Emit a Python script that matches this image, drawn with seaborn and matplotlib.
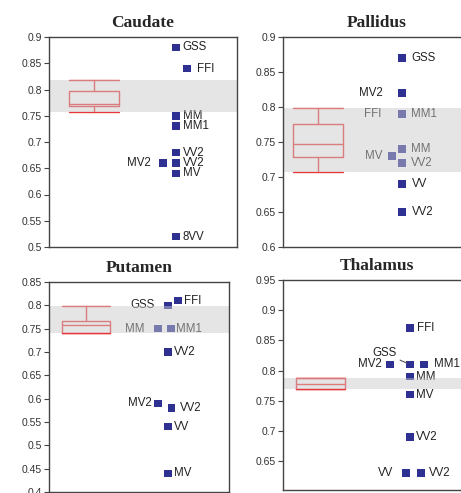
import matplotlib
matplotlib.use('Agg')
import matplotlib.pyplot as plt
from matplotlib.ticker import FormatStrFormatter, MultipleLocator
import seaborn as sns
import numpy as np
import pandas as pd

# ===============================================
# Values
# ===============================================
regions = ['Caudate', 'Pallidus', 'Putamen', 'Thalamus']

caudate_labels = ['GSS', 'FFI', 'MM', 'MM1', 'VV2', 'VV2', 'MV2', 'MV', '8VV']
caudate_values = [0.88, 0.84, 0.75, 0.73, 0.68, 0.66, 0.66, 0.64, 0.52]

pallidus_labels = ['GSS', 'MV2', 'FFI', 'MM1', 'MM', 'MV', 'VV2', 'VV', 'VV2']
pallidus_values = [0.87, 0.82, 0.79, 0.79, 0.74, 0.73, 0.72, 0.69, 0.65]

putamen_labels = ['FFI', 'GSS', 'MM', 'MM1', 'VV2', 'MV2', 'VV2', 'VV', 'MV']
putamen_values = [0.81, 0.80, 0.75, 0.75, 0.70, 0.59, 0.58, 0.54, 0.44]

thalamus_labels = ['FFI', 'GSS', 'MV2', 'MM1', 'MM', 'MV', 'VV2', 'VV', 'VV2']
thalamus_values = [0.87, 0.81, 0.81, 0.81, 0.79, 0.76, 0.69, 0.63, 0.63]

# control group box: whisker low, q1, median, q3, whisker high
caudate_box = [0.757, 0.768, 0.772, 0.797, 0.818]
pallidus_box = [0.707, 0.728, 0.747, 0.776, 0.799]
putamen_box = [0.740, 0.741, 0.757, 0.766, 0.798]
thalamus_box = [0.769, 0.770, 0.777, 0.787, 0.788]

y_limits = [(0.5, 0.9), (0.6, 0.9), (0.4, 0.85), (0.602, 0.95)]

# ===============================================
# Layout (manual dodging of the points and their labels)
# ===============================================
caudate_x = [0.675, 0.734, 0.675, 0.675, 0.675, 0.675, 0.606, 0.675, 0.675]
caudate_dx = [5, 7, 5, 5, 5, 5, -9, 5, 5]

pallidus_x = [0.636, 0.636, 0.636, 0.636, 0.636, 0.583, 0.636, 0.636, 0.636]
pallidus_dx = [6.5, -13.5, -14.5, 6.5, 6.5, -7, 6.5, 7, 7]

putamen_x = [0.717, 0.66, 0.606, 0.678, 0.66, 0.606, 0.68, 0.66, 0.66]
putamen_dx = [4.5, -9.5, -9.5, 3.5, 4.5, -4.5, 6, 4.5, 4.5]

thalamus_x = [0.679, 0.679, 0.572, 0.754, 0.679, 0.679, 0.679, 0.658, 0.738]
thalamus_dx = [5, None, -6, 7, 4, 4, 4.5, -9.5, 6]

box_center = [0.24, 0.187, 0.206, 0.20]
box_width = 0.266

axes_rects = [
    [49 / 461, 1 - 247 / 493, 188 / 461, 210 / 493],
    [283 / 461, 1 - 247 / 493, 187 / 461, 210 / 493],
    [49 / 461, 1 - 492 / 493, 180 / 461, 210 / 493],
    [283 / 461, 1 - 490 / 493, 187 / 461, 210 / 493],
]

point_color = '#2f3192'
box_color = '#e8383d'
frame_color = '#444444'

sns.set_style('white')
plt.rcParams['font.family'] = ['Liberation Sans', 'DejaVu Sans']

panels = [
    (caudate_labels, caudate_values, caudate_box, caudate_x, caudate_dx),
    (pallidus_labels, pallidus_values, pallidus_box, pallidus_x, pallidus_dx),
    (putamen_labels, putamen_values, putamen_box, putamen_x, putamen_dx),
    (thalamus_labels, thalamus_values, thalamus_box, thalamus_x, thalamus_dx),
]

fig = plt.figure(figsize=(4.61, 4.93), dpi=100)

for i, (labels, values, box, xs, dxs) in enumerate(panels):
    ax = fig.add_axes(axes_rects[i])
    df = pd.DataFrame({'x': xs, 'value': values, 'label': labels})

    # control group box plot
    stats = dict(whislo=box[0], q1=box[1], med=box[2], q3=box[3],
                 whishi=box[4], fliers=[])
    lp = dict(color=box_color, lw=1)
    ax.bxp([stats], positions=[box_center[i]], widths=box_width,
           capwidths=box_width, showfliers=False, manage_ticks=False,
           boxprops=lp, whiskerprops=lp, capprops=lp, medianprops=lp,
           zorder=2)

    # patients
    sns.scatterplot(data=df, x='x', y='value', ax=ax, marker='s', s=30,
                    color=point_color, edgecolor='none', linewidth=0,
                    legend=False, zorder=3)

    for xv, yv, lab, dx in zip(xs, values, labels, dxs):
        if dx is None:
            # label with a leader line
            ax.annotate(lab, xy=(xv, yv), xytext=(-9.5, 8.5),
                        textcoords='offset points', ha='right', va='center',
                        fontsize=8.3, color='#222222', zorder=3,
                        arrowprops=dict(arrowstyle='-', color='#555555',
                                        lw=0.8, shrinkA=0, shrinkB=2.5,
                                        relpos=(1, 0)))
            continue
        ax.annotate(lab, xy=(xv, yv), xytext=(dx, 0),
                    textcoords='offset points',
                    ha='left' if dx > 0 else 'right', va='center',
                    fontsize=8.3, color='#222222', zorder=3)

    # normal range band, drawn over the marks
    ax.axhspan(box[0], box[4], color='#c9c9c9', alpha=0.48, lw=0, zorder=5)

    ax.set_xlim(0, 1)
    ax.set_ylim(*y_limits[i])
    ax.yaxis.set_major_locator(MultipleLocator(0.05))
    ax.yaxis.set_major_formatter(FormatStrFormatter('%g'))
    ax.set_xticks([])
    ax.set_xlabel('')
    ax.set_ylabel('')
    ax.tick_params(axis='y', direction='out', length=3.5, width=0.8,
                   color=frame_color, labelsize=7.5, labelcolor='#333333',
                   pad=1.5, left=True)
    for sp in ax.spines.values():
        sp.set_color(frame_color)
        sp.set_linewidth(1)
        sp.set_zorder(6)
    ax.set_title(regions[i], fontsize=12.5, fontweight='bold',
                 family=['Liberation Serif', 'DejaVu Serif'], pad=7)

fig.savefig('out.png', dpi=100)
